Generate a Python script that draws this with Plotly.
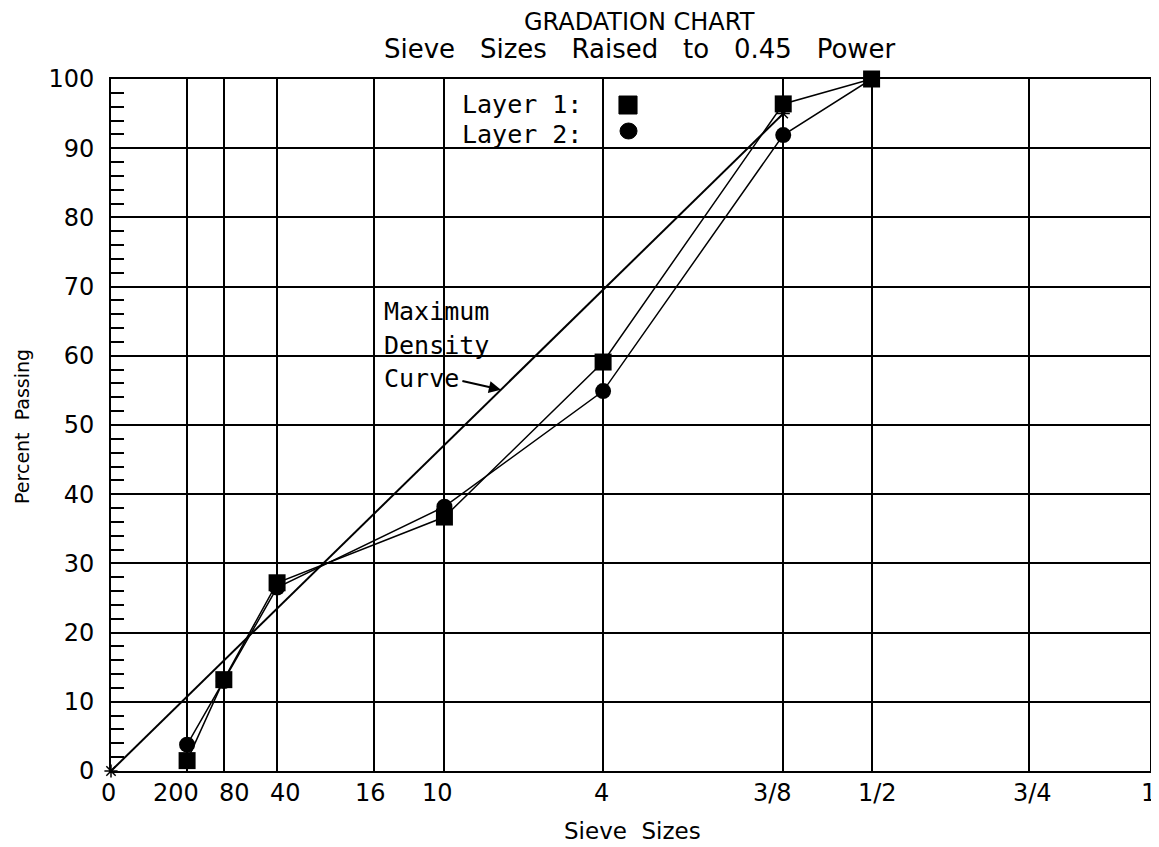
import plotly.graph_objects as go

# ---------------- data ----------------
tick_sizes_mm = [0.075, 0.18, 0.425, 1.18, 2.0, 4.75, 9.5, 12.5, 19.0, 25.0]
tick_labels = ["200", "80", "40", "16", "10", "4", "3/8", "1/2", "3/4", "1"]

sieve_names = ["200", "80", "40", "10", "4", "3/8", "1/2"]
sieve_mm = [0.075, 0.18, 0.425, 2.0, 4.75, 9.5, 12.5]
layer1 = [1.5, 13.2, 27.2, 36.7, 59.1, 96.4, 100.0]
layer2 = [3.8, 13.0, 26.5, 38.2, 54.9, 91.9, 100.0]

maxden_mm = [0.0, 9.5]
maxden_pct = [0.0, 95.0]

POWER = 0.45

def pw(v):
    return [s ** POWER for s in v]

NB = "\u00a0"
mono = "DejaVu Sans Mono"
sans = "DejaVu Sans"

tickvals = [0.0] + pw(tick_sizes_mm)
ticktext = ["0"] + tick_labels
# small horizontal nudges (px) so the crowded labels sit like the original
label_nudge = {"0": -3, "200": -11, "80": 11, "40": 8, "16": -3, "10": -7, "4": -2,
               "3/8": -11, "1/2": 6, "3/4": 3, "1": -2}

fig = go.Figure()

fig.add_trace(go.Scatter(
    x=pw(maxden_mm), y=maxden_pct, mode="lines+markers",
    line=dict(color="black", width=2),
    marker=dict(symbol="asterisk-open", size=11, line=dict(color="black", width=1.5)),
    cliponaxis=False, showlegend=False, name="Maximum Density Curve"))

fig.add_trace(go.Scatter(
    x=pw(sieve_mm), y=layer2, mode="lines+markers",
    line=dict(color="black", width=1.5),
    marker=dict(symbol="circle", size=16, color="black"),
    cliponaxis=False, showlegend=False, name="Layer 2"))

fig.add_trace(go.Scatter(
    x=pw(sieve_mm), y=layer1, mode="lines+markers",
    line=dict(color="black", width=1.5),
    marker=dict(symbol="square", size=17, color="black"),
    cliponaxis=False, showlegend=False, name="Layer 1"))

# arrow pointing at the maximum density line
frac = 0.58
ax_t = pw(maxden_mm)[1] * frac
ax_y = maxden_pct[1] * frac

annotations = [
    dict(text="GRADATION" + NB + "CHART", x=0.5091, y=1.082, xref="paper", yref="paper",
         showarrow=False, font=dict(family=sans, size=24, color="black"), xanchor="center", yanchor="middle"),
    dict(text="Sieve" + NB * 3 + "Sizes" + NB * 3 + "Raised" + NB * 3 + "to" + NB * 3 + "0.45" + NB * 3 + "Power",
         x=0.5091, y=1.043, xref="paper", yref="paper",
         showarrow=False, font=dict(family=sans, size=26, color="black"), xanchor="center", yanchor="middle"),
    dict(text="Sieve" + NB * 2 + "Sizes", x=0.5024, y=-0.0867, xref="paper", yref="paper",
         showarrow=False, font=dict(family=sans, size=23, color="black"), xanchor="center", yanchor="middle"),
    dict(text="Percent" + NB * 2 + "Passing", x=-0.0857, y=0.4986, xref="paper", yref="paper", textangle=-90,
         showarrow=False, font=dict(family=sans, size=19, color="black"), xanchor="center", yanchor="middle"),
    dict(text="Maximum", x=0.2608, y=0.664, xref="paper", yref="paper", showarrow=False,
         font=dict(family=mono, size=25, color="black"), xanchor="left", yanchor="middle"),
    dict(text="Density", x=0.2608, y=0.615, xref="paper", yref="paper", showarrow=False,
         font=dict(family=mono, size=25, color="black"), xanchor="left", yanchor="middle"),
    dict(text="Curve", x=0.2608, y=0.567, xref="paper", yref="paper", showarrow=False,
         font=dict(family=mono, size=25, color="black"), xanchor="left", yanchor="middle"),
    dict(text="", x=ax_t, y=ax_y, xref="x", yref="y", showarrow=True, ax=-40, ay=-9,
         arrowhead=2, arrowsize=1.2, arrowwidth=2, arrowcolor="black", standoff=0),
    dict(text="Layer" + NB + "1:", x=0.3359, y=0.963, xref="paper", yref="paper", showarrow=False,
         font=dict(family=mono, size=25, color="black"), xanchor="left", yanchor="middle"),
    dict(text="Layer" + NB + "2:", x=0.3359, y=0.920, xref="paper", yref="paper", showarrow=False,
         font=dict(family=mono, size=25, color="black"), xanchor="left", yanchor="middle"),
]

# x tick labels as text placed at the axis' own tick values
for tv, tt in zip(tickvals, ticktext):
    annotations.append(dict(text=tt, x=tv, y=0, xref="x", yref="paper", showarrow=False,
                            xanchor="center", yanchor="middle", yshift=-22,
                            xshift=label_nudge.get(tt, 0),
                            font=dict(family=sans, size=24, color="black")))

# legend swatches (decoration, placed beside the legend text)
shapes = [
    dict(type="rect", xref="paper", yref="paper", x0=0.4889, x1=0.5063, y0=0.9494, y1=0.9754,
         fillcolor="black", line=dict(color="black", width=1)),
    dict(type="circle", xref="paper", yref="paper", x0=0.4899, x1=0.5063, y0=0.9133, y1=0.9364,
         fillcolor="black", line=dict(color="black", width=1)),
]

# the page body adds an 8px offset, so the figure is sized/margined to compensate
fig.update_layout(
    width=1151, height=839,
    margin=dict(l=103, r=9, t=71, b=76, autoexpand=False),
    paper_bgcolor="white", plot_bgcolor="white",
    showlegend=False,
    annotations=annotations,
    shapes=shapes,
    xaxis=dict(
        range=[0, max(tickvals)], tickmode="array", tickvals=tickvals, ticktext=ticktext,
        showticklabels=False, automargin=False,
        showgrid=True, gridcolor="black", gridwidth=2,
        showline=True, linecolor="black", linewidth=2, mirror=True,
        ticks="", zeroline=False,
    ),
    yaxis=dict(
        range=[0, 100], tickmode="linear", tick0=0, dtick=10, automargin=False,
        showgrid=True, gridcolor="black", gridwidth=2,
        showline=True, linecolor="black", linewidth=2, mirror=True,
        ticks="inside", ticklen=13, tickwidth=2, tickcolor="black", zeroline=False,
        ticklabelstandoff=10,
        tickfont=dict(family=sans, size=24, color="black"),
        minor=dict(dtick=2, ticks="inside", ticklen=13, tickwidth=2, tickcolor="black", showgrid=False),
    ),
)

fig.write_html("out.html")
